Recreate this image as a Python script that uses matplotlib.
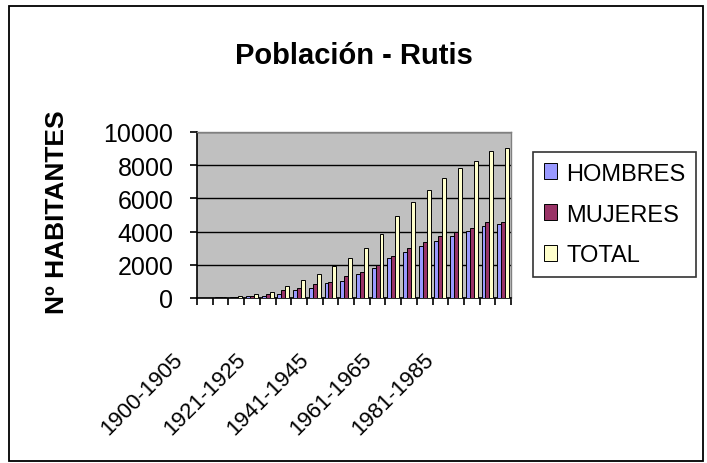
import matplotlib
matplotlib.use('Agg')
import matplotlib.pyplot as plt
import matplotlib.transforms as mtransforms
from matplotlib.patches import Rectangle
import numpy as np

plt.rcParams['font.family'] = ['Liberation Sans', 'DejaVu Sans']

# Data
periods = ['1900-1905', '1906-1910', '1911-1915', '1916-1920', '1921-1925',
           '1926-1930', '1931-1935', '1936-1940', '1941-1945', '1946-1950',
           '1951-1955', '1956-1960', '1961-1965', '1966-1970', '1971-1975',
           '1976-1980', '1981-1985', '1986-1990', '1991-1995', '1996-2000']
hombres = [0, 40, 50, 110, 120, 250, 480, 600, 880, 1050,
           1430, 1800, 2400, 2750, 3150, 3460, 3720, 4060, 4320, 4450]
mujeres = [0, 45, 50, 120, 230, 470, 580, 850, 950, 1300,
           1560, 2000, 2530, 3000, 3360, 3720, 3960, 4200, 4560, 4560]
total = [0, 85, 100, 230, 360, 720, 1060, 1450, 1940, 2390,
         3000, 3860, 4930, 5770, 6510, 7200, 7840, 8280, 8880, 9020]
shown_labels = [0, 4, 8, 12, 16]

fig = plt.figure(figsize=(7.07, 4.64), dpi=100)
fig.set_facecolor('white')

# outer chart border
fig.patches.append(Rectangle((9 / 707, 2 / 464), 694 / 707, 455 / 464,
                             transform=fig.transFigure, fill=False,
                             edgecolor='black', linewidth=1.3))

ax = fig.add_axes([197 / 707, 165 / 464, 314 / 707, 166 / 464])
ax.set_facecolor('#C0C0C0')

x = np.arange(len(periods)) + 0.5
w = 0.25
ax.bar(x - w, hombres, w, color='#9999FF', edgecolor='black', linewidth=0.7, label='HOMBRES', zorder=3)
ax.bar(x, mujeres, w, color='#993366', edgecolor='black', linewidth=0.7, label='MUJERES', zorder=3)
ax.bar(x + w, total, w, color='#FFFFCC', edgecolor='black', linewidth=0.7, label='TOTAL', zorder=3)

ax.set_xlim(0, len(periods))
ax.set_ylim(0, 10000)
ax.set_yticks(range(0, 10001, 2000))
ax.set_xticks(np.arange(len(periods) + 1))
ax.set_xticklabels([])
ax.tick_params(axis='both', direction='out', length=5, width=1.2, color='black')
ax.tick_params(axis='y', labelsize=18, pad=12)
ax.yaxis.grid(True, color='black', linewidth=1)
ax.set_axisbelow(True)

for side in ['left', 'bottom']:
    ax.spines[side].set_color('black')
    ax.spines[side].set_linewidth(1.2)
for side in ['top', 'right']:
    ax.spines[side].set_color('#808080')
    ax.spines[side].set_linewidth(1)

# rotated category labels, Excel style
lab_trans = mtransforms.offset_copy(ax.get_xaxis_transform(), fig=fig, x=-25, y=-58, units='dots')
for i in shown_labels:
    ax.text(x[i], 0, periods[i], transform=lab_trans, rotation=45, fontsize=16,
            ha='right', va='center', rotation_mode='anchor')

fig.text(354 / 707, 1 - 56 / 464, 'Población - Rutis', ha='center', va='center',
         fontsize=21, fontweight='bold')
fig.text(57 / 707, 1 - 212 / 464, 'Nº HABITANTES', ha='center', va='center',
         rotation=90, fontsize=19, fontweight='bold')

leg = ax.legend(loc='upper left', bbox_to_anchor=(533 / 707, 1 - 153 / 464),
                bbox_transform=fig.transFigure, borderaxespad=0, fontsize=17,
                frameon=True, fancybox=False, handlelength=0.55, handleheight=0.65,
                handletextpad=0.4, labelspacing=0.8, borderpad=0.45)
leg.get_frame().set_edgecolor('black')
leg.get_frame().set_linewidth(1.2)

fig.savefig('out.png', dpi=100, facecolor='white')
